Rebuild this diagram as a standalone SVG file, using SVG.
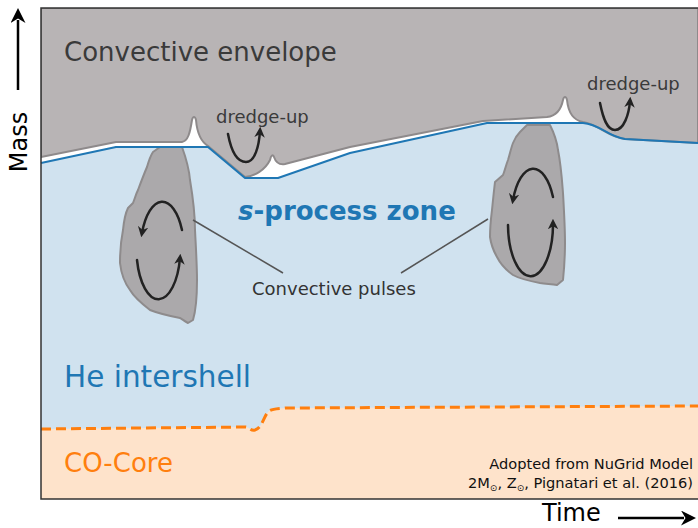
<svg xmlns="http://www.w3.org/2000/svg" width="698" height="528" viewBox="0 0 698 528">
  <style>
    text { font-family: "DejaVu Sans", "Liberation Sans", sans-serif; }
    .env-label { font-size: 26px; fill: #3a3a3a; }
    .dredge { font-size: 18px; fill: #3a3a3a; }
    .pulse { fill: #aba9ab; stroke: #8e8b8c; stroke-width: 2; stroke-linejoin: round; }
    .loop { fill: none; stroke: #222; stroke-width: 2.5; stroke-linecap: round; }
    .leader { stroke: #555; stroke-width: 1.5; fill: none; }
    .axis { font-size: 24px; fill: #000; }
    .credit { font-size: 14.6px; fill: #111; }
  </style>
  <defs>
    <marker id="head" viewBox="0 0 10 10" refX="6" refY="5" markerWidth="4.2" markerHeight="4.2" orient="auto" markerUnits="strokeWidth">
      <path d="M0,0 L10,5 L0,10 L3,5 Z" fill="#222"/>
    </marker>
    <marker id="axisHead" viewBox="0 0 10 10" refX="2" refY="5" markerWidth="6" markerHeight="6" orient="auto" markerUnits="strokeWidth">
      <path d="M0,0 L10,5 L0,10 L3,5 Z" fill="#000"/>
    </marker>
    <clipPath id="plot">
      <rect x="41" y="8" width="657" height="491"/>
    </clipPath>
  </defs>

  <!-- stellar layers -->
  <g id="layers" clip-path="url(#plot)">
    <!-- He intershell -->
    <rect id="intershell" x="41" y="8" width="657" height="491" fill="#d0e2ef"/>
    <!-- CO core -->
    <path id="co-core" d="M41,429 L245,427 C250,427 250,431 255,430 C262,428 263,418 268,412 C271,409 275,409 285,408 L698,406 L698,499 L41,499 Z" fill="#fee3cb"/>
    <path id="core-edge" d="M41,429 L245,427 C250,427 250,431 255,430 C262,428 263,418 268,412 C271,409 275,409 285,408 L698,406" fill="none" stroke="#ff7f0e" stroke-width="3" stroke-dasharray="10,5"/>
    <!-- gap between envelope and intershell -->
    <path d="M41,8 L698,8 L698,143 L625,139 C608,137 600,124 583,123 L487,123 L350,153 L278,178 L245,178 L208,147 L116,147 L41,163 Z" fill="#ffffff"/>
    <!-- convective envelope -->
    <path id="envelope" d="M41,8 L698,8 L698,143 L625,139 C608,137 598,124 583,122 C572,120 568,110 567,100 C566,96 564,96 563,100 C561,110 556,116 547,117 L483,121 L350,147 L285,164 C279,165 276,163 274,157 C273,154 271,155 270,160 C265,170 255,176 245,177 L208,146 C200,141 197,132 196,120 C195,116 193,116 192,120 C190,133 188,141 182,142 L116,142 L41,157 Z" fill="#b8b4b5" stroke="#8e8a8b" stroke-width="2" stroke-linejoin="round"/>
  </g>

  <!-- thermal pulses -->
  <g id="pulse-left">
    <path class="pulse" d="M160,147 L182,147 C186,158 189,168 190,180 C193,198 195,214 195,230 C196,250 197,265 197,280 C197,296 196,310 193,320 L188,323 C184,321 182,319 180,318 C170,316 160,314 150,310 C141,303 134,297 130,290 C124,282 121,272 120,263 C120,252 121,240 123,230 C124,220 126,212 128,208 L133,203 C135,198 136,194 138,190 C141,182 144,174 147,167 C149,160 151,155 153,152 Z"/>
    <path class="loop" d="M182,230 A22,51 0 0 0 142,233" marker-end="url(#head)"/>
    <path class="loop" d="M137,260 A22,51 0 0 0 180,258" marker-end="url(#head)"/>
  </g>
  <g id="pulse-right">
    <path class="pulse" d="M527,125 L550,125 C554,133 557,142 558,150 C561,165 562,180 563,193 C564,210 565,228 565,243 C565,258 564,270 563,280 L557,285 C552,284 546,284 540,283 C530,281 520,279 513,275 C506,270 500,263 497,257 C493,250 491,244 490,237 C490,228 491,218 492,210 C493,200 494,190 495,182 L503,175 C505,170 506,165 508,160 C510,154 511,148 513,143 C515,138 517,135 520,132 Z"/>
    <path class="loop" d="M553,197 A22,51 0 0 0 513,200" marker-end="url(#head)"/>
    <path class="loop" d="M508,225 A22,51 0 0 0 553,223" marker-end="url(#head)"/>
  </g>

  <!-- interface line between envelope and intershell -->
  <path id="boundary" d="M41,163 L116,147 L208,147 L245,178 L278,178 L350,153 L487,123 L583,123 C600,124 608,137 625,139 L698,143" fill="none" stroke="#1f77b4" stroke-width="2" stroke-linejoin="round"/>

  <!-- dredge-up events -->
  <g id="dredge-up-1">
    <text class="dredge" x="216" y="123">dredge-up</text>
    <path class="loop" d="M228,134 C231,150 237,162 246,162 C255,162 259,146 260,131" marker-end="url(#head)"/>
  </g>
  <g id="dredge-up-2">
    <text class="dredge" x="587" y="90">dredge-up</text>
    <path class="loop" d="M600,103 C603,118 607,130 615,130 C624,130 629,114 630,101" marker-end="url(#head)"/>
  </g>

  <!-- labels -->
  <g id="envelope-label">
    <text class="env-label" x="64" y="61">Convective envelope</text>
  </g>
  <g id="s-process">
    <text x="238" y="220" font-size="26" font-weight="bold" fill="#1f77b4"><tspan font-style="italic">s</tspan>-process zone</text>
  </g>
  <g id="pulses-label">
    <text x="252" y="295" font-size="18" fill="#333">Convective pulses</text>
  </g>
  <g id="connectors">
    <line class="leader" x1="193" y1="220" x2="283" y2="273"/>
    <line class="leader" x1="488" y1="219" x2="401" y2="273"/>
  </g>
  <g id="intershell-label">
    <text x="64" y="387" font-size="29.5" fill="#1f77b4">He intershell</text>
  </g>
  <g id="core-label">
    <text x="64" y="472" font-size="26" fill="#ff7f0e">CO-Core</text>
  </g>
  <g id="credit">
    <text class="credit" x="693" y="469" text-anchor="end">Adopted from NuGrid Model</text>
    <text class="credit" x="693" y="488" text-anchor="end">2M<tspan font-size="9" dy="3">⊙</tspan><tspan dy="-3">, Z</tspan><tspan font-size="9" dy="3">⊙</tspan><tspan dy="-3">, Pignatari et al. (2016)</tspan></text>
  </g>

  <!-- frame -->
  <path d="M698,8 L41,8 L41,499 L698,499" fill="none" stroke="#333" stroke-width="1.5"/>

  <!-- axes -->
  <g id="mass-axis">
    <line x1="18" y1="90" x2="18" y2="20" stroke="#000" stroke-width="2.5" marker-end="url(#axisHead)"/>
    <text class="axis" transform="translate(27,142) rotate(-90)" text-anchor="middle">Mass</text>
  </g>
  <g id="time-axis">
    <text class="axis" x="542" y="521" font-size="23">Time</text>
    <line x1="618" y1="518" x2="684" y2="518" stroke="#000" stroke-width="2.5" marker-end="url(#axisHead)"/>
  </g>
</svg>
